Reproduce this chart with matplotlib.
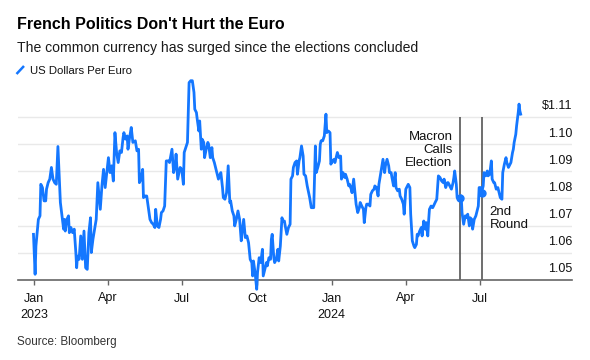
import numpy as np
import pandas as pd
import matplotlib
matplotlib.use('Agg')
import matplotlib.pyplot as plt
import matplotlib.transforms as mtransforms
from matplotlib.lines import Line2D

plt.rcParams['font.family'] = ['Liberation Sans', 'DejaVu Sans']

# data: days since 2023-01-01 and US dollars per euro
days = [-1, 1, 2, 5, 7, 8, 10, 12, 14, 15, 17, 19, 21, 23, 25, 27, 29, 31, 32, 34,
        36, 37, 38, 40, 42, 43, 45, 47, 49, 51, 52, 53, 55, 57, 59, 61, 63, 65, 67, 69,
        70, 72, 74, 76, 78,
        81, 83, 85, 87, 89, 91, 93, 95, 97, 99, 101, 103, 105, 107, 109, 110, 112, 114, 115, 117,
        119, 121, 124, 126, 128, 129, 131, 133, 134, 136, 138, 140, 142, 144, 146, 148, 149, 151,
        153, 155, 156, 158, 160, 162,
        165, 166, 169, 171, 173, 174, 176, 178, 179, 181, 183, 184, 186, 188, 190, 192, 194, 196,
        197, 199, 200, 202, 203, 205, 206, 208, 209, 211, 213, 214, 216, 218, 219, 221, 223, 224,
        226, 227, 229, 231, 232, 234, 236, 238, 240, 241, 243, 245, 246, 248, 250,
        252, 254, 255, 257, 259, 261, 263, 265, 267, 268, 269, 271, 273, 274, 276, 278, 280, 281,
        283, 285, 286, 288, 290, 291, 292, 294, 295, 297, 299, 300, 302, 304, 305, 307, 308, 310,
        312, 314, 315, 317, 318, 320, 322, 323, 325, 326, 328, 330, 331, 333, 335,
        338, 340, 343, 345, 346, 348, 350, 351, 352, 354, 356, 358, 359, 361, 363, 364, 366, 368,
        369, 371, 372, 374, 376, 377, 379, 381, 382, 384, 386, 387, 389, 390, 392, 394, 395, 397,
        399, 400, 402, 404, 405, 407, 408, 410, 412, 413, 415, 417, 418, 420, 422, 423,
        424, 426, 428, 430, 431, 433, 435, 436, 438, 439, 441, 443, 444, 446, 448, 449, 451, 453,
        454, 456, 457, 459, 461, 462, 464, 466, 467, 469, 470, 471, 473, 475, 476, 478, 480, 481,
        483, 484, 485, 487, 489, 490, 492, 494, 496, 498, 500, 502, 503, 505, 507, 508,
        510, 512, 514, 515, 516, 518, 519, 521, 523, 524, 525, 527, 529, 530, 532, 534, 535, 537,
        538, 540, 542, 543, 545, 546, 548, 549, 551, 552, 554, 556, 557, 559, 561, 562, 564, 565,
        567, 569, 570, 572, 574, 575, 577, 579, 580, 582, 583, 585, 587, 588, 589, 591, 592, 594,
        595, 596, 597]

usd_per_eur = [1.0668, 1.0521, 1.0625, 1.0723, 1.0736, 1.0852, 1.0840, 1.0791, 1.0791, 1.0834,
               1.0858, 1.0871, 1.0914, 1.0871, 1.0858, 1.0852, 1.0991, 1.0858, 1.0785, 1.0736,
               1.0687, 1.0723, 1.0680, 1.0723, 1.0736, 1.0674, 1.0693, 1.0674, 1.0687, 1.0601,
               1.0545, 1.0588, 1.0576, 1.0662, 1.0576, 1.0680, 1.0545, 1.0539, 1.0674, 1.0729,
               1.0601, 1.0650, 1.0687, 1.0723, 1.0858,
               1.0760, 1.0846, 1.0907, 1.0840, 1.0895, 1.0950, 1.0895, 1.0920, 1.0864, 1.1042,
               1.0969, 1.0932, 1.0975, 1.0969, 1.1024, 1.1042, 1.1018, 1.1030, 1.0981, 1.1024,
               1.1061, 1.1006, 1.1012, 1.0975, 1.0981, 1.0858, 1.0871, 1.0907, 1.0803, 1.0809,
               1.0809, 1.0766, 1.0723, 1.0711, 1.0705, 1.0693, 1.0760, 1.0699, 1.0693, 1.0723,
               1.0748, 1.0754, 1.0772, 1.0938,
               1.0938, 1.0932, 1.0981, 1.0895, 1.0920, 1.0963, 1.0871, 1.0901, 1.0914, 1.0907,
               1.0852, 1.0969, 1.0987, 1.1006, 1.1226, 1.1233, 1.1233, 1.1190, 1.1128, 1.1116,
               1.1091, 1.1048, 1.1085, 1.0981, 1.1018, 1.1006, 1.0950, 1.0981, 1.1006, 1.0999,
               1.0950, 1.0987, 1.0950, 1.0932, 1.0907, 1.0895, 1.0871, 1.0883, 1.0895, 1.0840,
               1.0803, 1.0797, 1.0821, 1.0920, 1.0785, 1.0791, 1.0754, 1.0736, 1.0699, 1.0723,
               1.0754,
               1.0723, 1.0644, 1.0674, 1.0723, 1.0656, 1.0662, 1.0637, 1.0576, 1.0564, 1.0515,
               1.0570, 1.0527, 1.0466, 1.0527, 1.0582, 1.0564, 1.0613, 1.0515, 1.0539, 1.0564,
               1.0552, 1.0582, 1.0576, 1.0650, 1.0668, 1.0582, 1.0564, 1.0576, 1.0613, 1.0570,
               1.0625, 1.0729, 1.0717, 1.0717, 1.0699, 1.0668, 1.0693, 1.0705, 1.0871, 1.0883,
               1.0914, 1.0932, 1.0938, 1.0889, 1.0938, 1.0950, 1.0993, 1.0956, 1.0889, 1.0883,
               1.0846,
               1.0803, 1.0766, 1.0766, 1.0993, 1.0895, 1.0914, 1.0938, 1.0999, 1.1012, 1.1012,
               1.1030, 1.1110, 1.1042, 1.1048, 1.1042, 1.0926, 1.0938, 1.0944, 1.0932, 1.0956,
               1.0969, 1.0950, 1.0956, 1.0871, 1.0895, 1.0877, 1.0889, 1.0871, 1.0846, 1.0852,
               1.0834, 1.0821, 1.0871, 1.0809, 1.0779, 1.0748, 1.0766, 1.0785, 1.0772, 1.0760,
               1.0711, 1.0766, 1.0779, 1.0779, 1.0772, 1.0815, 1.0828, 1.0834, 1.0846, 1.0840,
               1.0809, 1.0852,
               1.0871, 1.0907, 1.0944, 1.0895, 1.0920, 1.0944, 1.0920, 1.0895, 1.0895, 1.0877,
               1.0846, 1.0895, 1.0840, 1.0828, 1.0834, 1.0809, 1.0797, 1.0779, 1.0742, 1.0834,
               1.0840, 1.0852, 1.0840, 1.0742, 1.0644, 1.0625, 1.0619, 1.0631, 1.0668, 1.0662,
               1.0680, 1.0693, 1.0662, 1.0717, 1.0687, 1.0711, 1.0662, 1.0717, 1.0760, 1.0772,
               1.0766, 1.0772, 1.0785, 1.0797, 1.0883, 1.0877, 1.0864, 1.0858, 1.0871, 1.0840,
               1.0858, 1.0858,
               1.0846, 1.0834, 1.0858, 1.0877, 1.0901, 1.0852, 1.0803, 1.0797, 1.0803, 1.0809,
               1.0748, 1.0705, 1.0736, 1.0729, 1.0742, 1.0699, 1.0729, 1.0723, 1.0687, 1.0723,
               1.0736, 1.0748, 1.0772, 1.0840, 1.0840, 1.0821, 1.0846, 1.0895, 1.0883, 1.0901,
               1.0883, 1.0889, 1.0938, 1.0871, 1.0858, 1.0858, 1.0834, 1.0840, 1.0828, 1.0803,
               1.0797, 1.0895, 1.0926, 1.0950, 1.0932, 1.0914, 1.0920, 1.0932, 1.0969, 1.0981,
               1.1006, 1.1036, 1.1067, 1.1116, 1.1147, 1.1122, 1.1110]

y_ticks = [1.05, 1.06, 1.07, 1.08, 1.09, 1.10, 1.11]
y_labels = ['1.05', '1.06', '1.07', '1.08', '1.09', '1.10', '$1.11']
x_ticks = ['2023-01-01', '2023-04-01', '2023-07-01', '2023-10-01',
           '2024-01-01', '2024-04-01', '2024-07-01']
x_labels = ['Jan\n2023', 'Apr', 'Jul', 'Oct', 'Jan\n2024', 'Apr', 'Jul']
events = ['2024-06-06', '2024-07-03']
event_labels = ['Macron\nCalls\nElection', '2nd\nRound']

BLUE = '#1477ff'

dates = pd.Timestamp('2023-01-01') + pd.to_timedelta(days, unit='D')
event_dates = pd.to_datetime(events)

fig = plt.figure(figsize=(5.9, 3.6), dpi=100)
ax = fig.add_axes([18 / 590, 80 / 360, 554 / 590, 205 / 360])

# grid lines and right-hand labels sitting on top of them
for v, lab in zip(y_ticks, y_labels):
    if v > y_ticks[0]:
        ax.axhline(v, color='#e9e9e9', lw=1, zorder=0)
    tr = mtransforms.offset_copy(ax.get_yaxis_transform(), fig=fig, x=0, y=7.5, units='dots')
    ax.text(1.0, v, lab, transform=tr, ha='right', va='baseline', fontsize=9, color='#111')

# event lines
ax.vlines(event_dates, y_ticks[0], y_ticks[-1], color='#555555', lw=1.2, zorder=1)

ax.plot(dates, usd_per_eur, color=BLUE, lw=2, zorder=3, clip_on=False,
        solid_joinstyle='round')

# dots where the line meets the event lines
xnum = matplotlib.dates.date2num(dates)
enum = matplotlib.dates.date2num(event_dates)
ax.plot(event_dates, np.interp(enum, xnum, usd_per_eur), 'o', color=BLUE, ms=5, zorder=4)

ax.annotate(event_labels[0], xy=(event_dates[0], y_ticks[-1]), xytext=(-7, -14),
            textcoords='offset pixels', ha='right', va='top', fontsize=9.5,
            linespacing=1.1, color='#111')
ax.annotate(event_labels[1], xy=(event_dates[1], y_ticks[-1]), xytext=(8, -89),
            textcoords='offset pixels', ha='left', va='top', fontsize=9.5,
            linespacing=1.1, color='#111')

ax.set_xlim(pd.Timestamp('2022-12-12'), pd.Timestamp('2024-10-22'))
ax.set_ylim(1.05, 1.1254)
for s in ['top', 'right', 'left']:
    ax.spines[s].set_visible(False)
ax.spines['bottom'].set_color('#666666')
ax.spines['bottom'].set_linewidth(1.2)
ax.set_yticks([])
ax.set_xticks(pd.to_datetime(x_ticks))
ax.set_xticklabels(x_labels, fontsize=9, linespacing=1.45, color='#111')
ax.tick_params(axis='x', length=3.5, width=1, color='#666666', pad=5.5)

fig.text(17 / 590, 1 - 29 / 360, "French Politics Don't Hurt the Euro",
         fontsize=11.5, fontweight='bold', color='#000')
fig.text(17 / 590, 1 - 52.3 / 360, 'The common currency has surged since the elections concluded',
         fontsize=10.1, color='#1a1a1a')
fig.add_artist(Line2D([16.5 / 590, 24 / 590], [1 - 74 / 360, 1 - 66 / 360],
                      color=BLUE, lw=1.8, solid_capstyle='butt'))
fig.text(30.5 / 590, 1 - 74 / 360, 'US Dollars Per Euro', fontsize=8.2, color='#111')
fig.text(17 / 590, 1 - 345 / 360, 'Source: Bloomberg', fontsize=8.4, color='#333')

fig.savefig('out.png', dpi=100)
